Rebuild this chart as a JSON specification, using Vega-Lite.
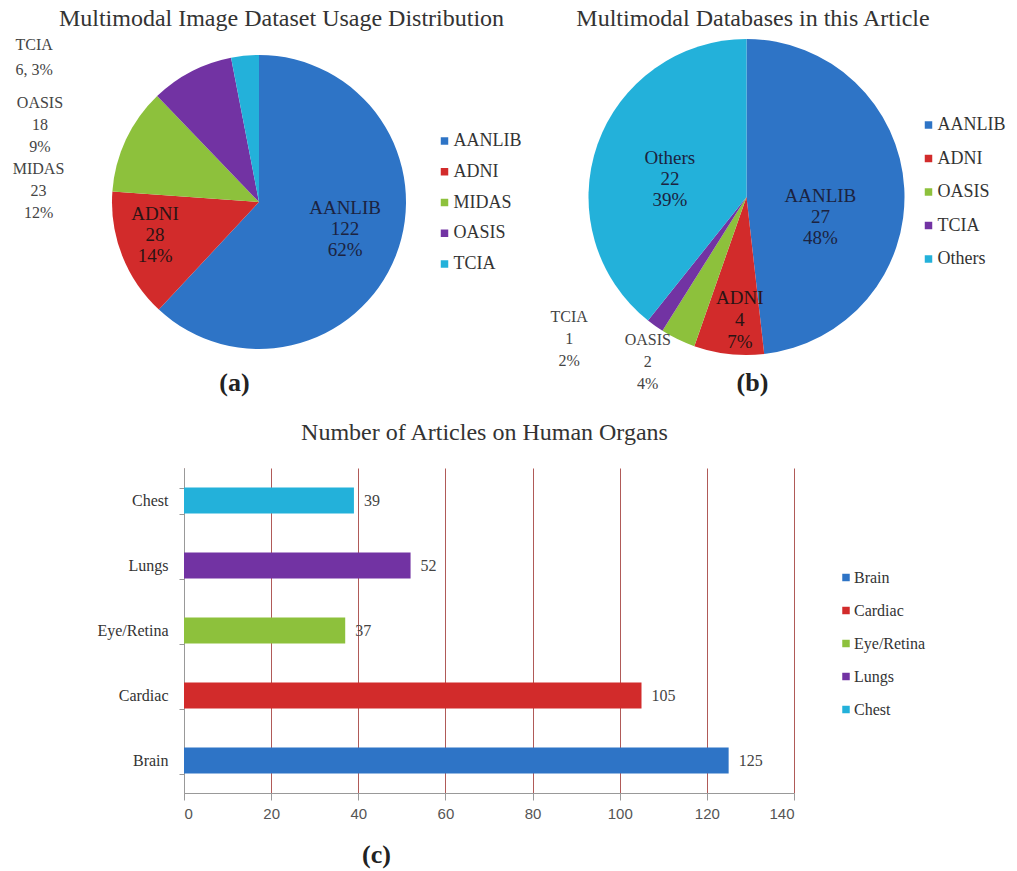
{
  "$schema": "https://vega.github.io/schema/vega-lite/v6.json",
  "background": "white",
  "padding": {"left": 12, "top": 6, "right": 5, "bottom": 5},
  "config": {"view": {"stroke": null}, "font": "Liberation Serif"},
  "columns": 2,
  "align": "none",
  "bounds": "flush",
  "spacing": {"row": 116, "column": -197.5},
  "resolve": {
    "scale": {"color": "independent", "theta": "independent", "x": "independent", "y": "independent"},
    "legend": {"color": "independent"}
  },
  "concat": [
    {
      "width": 150,
      "height": 300,
      "data": {"values": [
        {"dataset": "AANLIB", "count": 122, "pct": 62},
        {"dataset": "ADNI", "count": 28, "pct": 14},
        {"dataset": "MIDAS", "count": 23, "pct": 12},
        {"dataset": "OASIS", "count": 18, "pct": 9},
        {"dataset": "TCIA", "count": 6, "pct": 3}
      ]},
      "transform": [
        {"window": [{"op": "row_number", "as": "rank"}]},
        {"stack": "count", "groupby": [], "sort": [{"field": "rank", "order": "ascending"}], "as": ["t0", "t1"]},
        {"calculate": "(datum.t0 + datum.t1) / 2", "as": "tm"}
      ],
      "layer": [
        {
          "mark": {"type": "arc", "outerRadius": 147},
          "encoding": {
            "theta": {"field": "t0", "type": "quantitative", "stack": null, "scale": {"domain": [0, 197], "nice": false}},
            "theta2": {"field": "t1"},
            "color": {
              "field": "dataset", "type": "nominal",
              "scale": {"domain": ["AANLIB", "ADNI", "MIDAS", "OASIS", "TCIA"], "range": ["#2e74c6", "#d22b2b", "#8dc13c", "#7233a3", "#23b1da"]},
              "legend": {"orient": "none", "legendX": 251.5, "legendY": 80, "title": null, "symbolType": "square", "symbolSize": 56, "symbolStrokeWidth": 0, "labelFont": "Liberation Serif", "labelFontSize": 18, "labelColor": "#333333", "rowPadding": 12.75, "labelOffset": 0}
            }
          }
        },
        {
          "transform": [{"filter": "datum.dataset === 'AANLIB'"}, {"calculate": "datum.dataset + '\\n' + datum.count + '\\n' + datum.pct + '%'", "as": "lbl"}],
          "mark": {"type": "text", "radius": 91, "dx": 1.4, "dy": -27, "lineBreak": "\n", "lineHeight": 21, "font": "Liberation Serif", "fontSize": 19, "color": "#1c2340"},
          "encoding": {"theta": {"field": "tm", "type": "quantitative", "stack": null}, "text": {"field": "lbl", "type": "nominal"}}
        },
        {
          "transform": [{"filter": "datum.dataset === 'ADNI'"}, {"calculate": "datum.dataset + '\\n' + datum.count + '\\n' + datum.pct + '%'", "as": "lbl"}],
          "mark": {"type": "text", "radius": 108, "dx": -3.4, "dy": -27.3, "lineBreak": "\n", "lineHeight": 21, "font": "Liberation Serif", "fontSize": 19, "color": "#2a1414"},
          "encoding": {"theta": {"field": "tm", "type": "quantitative", "stack": null}, "text": {"field": "lbl", "type": "nominal"}}
        },
        {
          "transform": [{"filter": "datum.dataset === 'MIDAS'"}, {"calculate": "datum.dataset + '\\n' + datum.count + '\\n' + datum.pct + '%'", "as": "lbl"}],
          "mark": {"type": "text", "radius": 160, "dx": -75.6, "dy": 34.8, "lineBreak": "\n", "lineHeight": 22, "font": "Liberation Serif", "fontSize": 16, "color": "#444444"},
          "encoding": {"theta": {"field": "tm", "type": "quantitative", "stack": null}, "text": {"field": "lbl", "type": "nominal"}}
        },
        {
          "transform": [{"filter": "datum.dataset === 'OASIS'"}, {"calculate": "datum.dataset + '\\n' + datum.count + '\\n' + datum.pct + '%'", "as": "lbl"}],
          "mark": {"type": "text", "radius": 160, "dx": -145.4, "dy": 42.9, "lineBreak": "\n", "lineHeight": 22, "font": "Liberation Serif", "fontSize": 16, "color": "#444444"},
          "encoding": {"theta": {"field": "tm", "type": "quantitative", "stack": null}, "text": {"field": "lbl", "type": "nominal"}}
        },
        {
          "transform": [{"filter": "datum.dataset === 'TCIA'"}, {"calculate": "datum.dataset + '\\n' + datum.count + ', ' + datum.pct + '%'", "as": "lbl"}],
          "mark": {"type": "text", "radius": 160, "dx": -228.2, "dy": 2.3, "align": "left", "lineBreak": "\n", "lineHeight": 25, "font": "Liberation Serif", "fontSize": 16, "color": "#444444"},
          "encoding": {"theta": {"field": "tm", "type": "quantitative", "stack": null}, "text": {"field": "lbl", "type": "nominal"}}
        },
        {
          "mark": {"type": "point", "opacity": 0},
          "encoding": {
            "x": {"datum": "(a)", "type": "nominal", "axis": {"title": "Multimodal Image Dataset Usage Distribution", "orient": "top", "labels": false, "ticks": false, "domain": false, "grid": false, "titleFont": "Liberation Serif", "titleFontSize": 24, "titleFontWeight": "normal", "titleColor": "#333333", "titleX": 97, "titleY": -26.5, "titleBaseline": "alphabetic", "titleAlign": "center"}},
            "y": {"datum": "(a)", "type": "nominal", "axis": {"title": "(a)", "orient": "left", "labels": false, "ticks": false, "domain": false, "grid": false, "titleAngle": 0, "titleFont": "Liberation Serif", "titleFontSize": 26, "titleFontWeight": "bold", "titleColor": "#222222", "titleX": 50, "titleY": 338.5, "titleBaseline": "alphabetic", "titleAlign": "center"}}
          }
        }
      ]
    },
    {
      "width": 300,
      "height": 290,
      "data": {"values": [
        {"dataset": "AANLIB", "count": 27, "pct": 48},
        {"dataset": "ADNI", "count": 4, "pct": 7},
        {"dataset": "OASIS", "count": 2, "pct": 4},
        {"dataset": "TCIA", "count": 1, "pct": 2},
        {"dataset": "Others", "count": 22, "pct": 39}
      ]},
      "transform": [
        {"window": [{"op": "row_number", "as": "rank"}]},
        {"stack": "count", "groupby": [], "sort": [{"field": "rank", "order": "ascending"}], "as": ["t0", "t1"]},
        {"calculate": "(datum.t0 + datum.t1) / 2", "as": "tm"}
      ],
      "layer": [
        {
          "mark": {"type": "arc", "outerRadius": 158},
          "encoding": {
            "theta": {"field": "t0", "type": "quantitative", "stack": null, "scale": {"domain": [0, 56], "nice": false}},
            "theta2": {"field": "t1"},
            "color": {
              "field": "dataset", "type": "nominal",
              "scale": {"domain": ["AANLIB", "ADNI", "OASIS", "TCIA", "Others"], "range": ["#2e74c6", "#d22b2b", "#8dc13c", "#7233a3", "#23b1da"]},
              "legend": {"orient": "none", "legendX": 323, "legendY": 64, "title": null, "symbolType": "square", "symbolSize": 56, "symbolStrokeWidth": 0, "labelFont": "Liberation Serif", "labelFontSize": 18, "labelColor": "#333333", "rowPadding": 15.5, "labelOffset": 0}
            }
          }
        },
        {
          "transform": [{"filter": "datum.dataset === 'AANLIB'"}, {"calculate": "datum.dataset + '\\n' + datum.count + '\\n' + datum.pct + '%'", "as": "lbl"}],
          "mark": {"type": "text", "radius": 76, "dx": -2, "dy": 3, "lineBreak": "\n", "lineHeight": 21, "font": "Liberation Serif", "fontSize": 19, "color": "#1c2340"},
          "encoding": {"theta": {"field": "tm", "type": "quantitative", "stack": null}, "text": {"field": "lbl", "type": "nominal"}}
        },
        {
          "transform": [{"filter": "datum.dataset === 'ADNI'"}, {"calculate": "datum.dataset + '\\n' + datum.count + '\\n' + datum.pct + '%'", "as": "lbl"}],
          "mark": {"type": "text", "radius": 122, "dx": 7, "dy": -20, "lineBreak": "\n", "lineHeight": 22, "font": "Liberation Serif", "fontSize": 19, "color": "#2a1414"},
          "encoding": {"theta": {"field": "tm", "type": "quantitative", "stack": null}, "text": {"field": "lbl", "type": "nominal"}}
        },
        {
          "transform": [{"filter": "datum.dataset === 'Others'"}, {"calculate": "datum.dataset + '\\n' + datum.count + '\\n' + datum.pct + '%'", "as": "lbl"}],
          "mark": {"type": "text", "radius": 79, "dx": -2, "dy": -12.5, "lineBreak": "\n", "lineHeight": 21, "font": "Liberation Serif", "fontSize": 19, "color": "#1c2340"},
          "encoding": {"theta": {"field": "tm", "type": "quantitative", "stack": null}, "text": {"field": "lbl", "type": "nominal"}}
        },
        {
          "transform": [{"filter": "datum.dataset === 'TCIA'"}, {"calculate": "datum.dataset + '\\n' + datum.count + '\\n' + datum.pct + '%'", "as": "lbl"}],
          "mark": {"type": "text", "radius": 170, "dx": -79, "dy": -18.5, "lineBreak": "\n", "lineHeight": 22, "font": "Liberation Serif", "fontSize": 16, "color": "#444444"},
          "encoding": {"theta": {"field": "tm", "type": "quantitative", "stack": null}, "text": {"field": "lbl", "type": "nominal"}}
        },
        {
          "transform": [{"filter": "datum.dataset === 'OASIS'"}, {"calculate": "datum.dataset + '\\n' + datum.count + '\\n' + datum.pct + '%'", "as": "lbl"}],
          "mark": {"type": "text", "radius": 170, "dx": -25, "dy": -10.5, "lineBreak": "\n", "lineHeight": 22, "font": "Liberation Serif", "fontSize": 16, "color": "#444444"},
          "encoding": {"theta": {"field": "tm", "type": "quantitative", "stack": null}, "text": {"field": "lbl", "type": "nominal"}}
        },
        {
          "mark": {"type": "point", "opacity": 0},
          "encoding": {
            "x": {"datum": "(b)", "type": "nominal", "axis": {"title": "Multimodal Databases in this Article", "orient": "top", "labels": false, "ticks": false, "domain": false, "grid": false, "titleFont": "Liberation Serif", "titleFontSize": 24, "titleFontWeight": "normal", "titleColor": "#333333", "titleX": 156, "titleY": -26.5, "titleBaseline": "alphabetic", "titleAlign": "center"}},
            "y": {"datum": "(b)", "type": "nominal", "axis": {"title": "(b)", "orient": "left", "labels": false, "ticks": false, "domain": false, "grid": false, "titleAngle": 0, "titleFont": "Liberation Serif", "titleFontSize": 26, "titleFontWeight": "bold", "titleColor": "#222222", "titleX": 155.5, "titleY": 338.5, "titleBaseline": "alphabetic", "titleAlign": "center"}}
          }
        }
      ]
    },
    {
      "width": 610,
      "height": 325,
      "title": {"text": "Number of Articles on Human Organs", "frame": "group", "anchor": "middle", "dx": -4.5, "offset": -4, "baseline": "alphabetic", "font": "Liberation Serif", "fontSize": 24, "fontWeight": "normal", "color": "#333333"},
      "data": {"values": [
        {"organ": "Brain", "articles": 125},
        {"organ": "Cardiac", "articles": 105},
        {"organ": "Eye/Retina", "articles": 37},
        {"organ": "Lungs", "articles": 52},
        {"organ": "Chest", "articles": 39}
      ]},
      "encoding": {
        "y": {
          "field": "organ", "type": "nominal",
          "sort": ["Chest", "Lungs", "Eye/Retina", "Cardiac", "Brain"],
          "scale": {"paddingInner": 0.6, "paddingOuter": 0.3},
          "axis": {"title": null, "tickBand": "extent", "grid": false, "labelFont": "Liberation Serif", "labelFontSize": 16, "labelColor": "#333333", "labelPadding": 11, "tickSize": 5, "tickColor": "#999999", "domainColor": "#999999"}
        },
        "x": {
          "field": "articles", "type": "quantitative",
          "scale": {"domain": [0, 140], "nice": false},
          "axis": {"values": [0, 20, 40, 60, 80, 100, 120, 140], "grid": true, "gridColor": "#b05a58", "gridOpacity": 1, "labelFont": "Liberation Sans", "labelFontSize": 15, "labelColor": "#555555", "labelPadding": 6.5, "tickSize": 7, "tickColor": "#999999", "domainColor": "#999999", "title": "(c)", "titleFont": "Liberation Serif", "titleFontSize": 26, "titleFontWeight": "bold", "titleColor": "#222222", "titleX": 192, "titleY": 69.5, "titleBaseline": "alphabetic", "titleAlign": "center"}
        }
      },
      "layer": [
        {
          "mark": {"type": "bar"},
          "encoding": {
            "color": {
              "field": "organ", "type": "nominal",
              "scale": {"domain": ["Brain", "Cardiac", "Eye/Retina", "Lungs", "Chest"], "range": ["#2e74c6", "#d22b2b", "#8dc13c", "#7233a3", "#23b1da"]},
              "legend": {"orient": "none", "legendX": 654, "legendY": 101.5, "title": null, "symbolType": "square", "symbolSize": 56, "symbolStrokeWidth": 0, "labelFont": "Liberation Serif", "labelFontSize": 16, "labelColor": "#333333", "rowPadding": 17, "labelOffset": 0}
            }
          }
        },
        {
          "mark": {"type": "text", "align": "left", "dx": 10, "font": "Liberation Serif", "fontSize": 16, "color": "#444444"},
          "encoding": {"text": {"field": "articles", "type": "quantitative"}}
        }
      ]
    }
  ]
}
